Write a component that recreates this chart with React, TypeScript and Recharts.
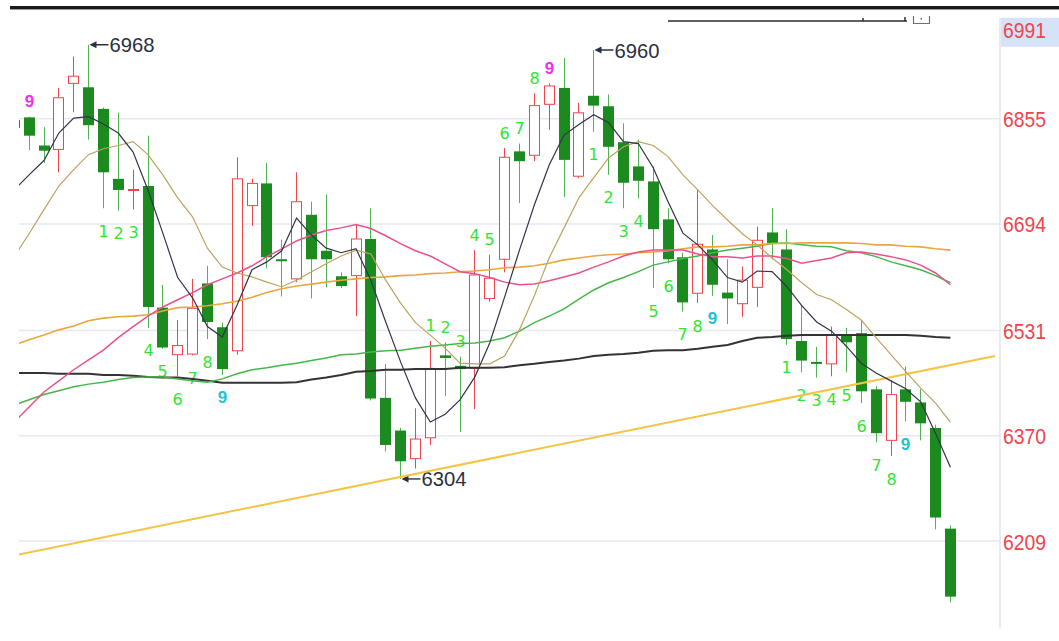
import React from 'react';
import { ComposedChart, Bar, Line, XAxis, YAxis, CartesianGrid, ReferenceLine } from 'recharts';

// ---- candle data (index 0 is the candle cut by the left edge) ----
const opens = [6853, 6857, 6814, 6808, 6909, 6903, 6870, 6763, 6745, 6752,
  6566, 6494, 6495, 6603, 6536, 6500, 6722, 6756, 6640, 6610,
  6708, 6653, 6614, 6615, 6671, 6428, 6378, 6335, 6367, 6493,
  6477, 6473, 6580, 6640, 6805, 6799, 6877, 6902, 6767, 6890,
  6874, 6819, 6782, 6759, 6701, 6643, 6588, 6655, 6589, 6572,
  6597, 6681, 6655, 6515, 6483, 6480, 6523, 6527, 6441, 6363,
  6441, 6421, 6382, 6228];
const highs = [6858, 6858, 6842, 6902, 6950, 6968, 6872, 6864, 6777, 6829,
  6601, 6547, 6610, 6630, 6543, 6796, 6763, 6787, 6670, 6773,
  6728, 6739, 6620, 6693, 6718, 6480, 6382, 6412, 6515, 6513,
  6491, 6654, 6647, 6810, 6817, 6894, 6909, 6948, 6879, 6960,
  6892, 6848, 6823, 6782, 6718, 6650, 6747, 6677, 6640, 6629,
  6690, 6718, 6686, 6570, 6506, 6537, 6535, 6546, 6446, 6455,
  6476, 6441, 6387, 6233];
const lows = [6835, 6807, 6787, 6773, 6865, 6823, 6718, 6714, 6716, 6535,
  6503, 6461, 6493, 6518, 6463, 6494, 6691, 6626, 6583, 6605,
  6580, 6597, 6596, 6553, 6424, 6346, 6304, 6320, 6356, 6431,
  6376, 6411, 6575, 6620, 6726, 6790, 6838, 6735, 6764, 6835,
  6769, 6718, 6733, 6596, 6634, 6560, 6573, 6584, 6541, 6552,
  6567, 6640, 6509, 6467, 6459, 6461, 6467, 6420, 6360, 6339,
  6392, 6363, 6227, 6115];
const closes = [6841, 6829, 6806, 6887, 6920, 6845, 6773, 6746, 6747, 6567,
  6505, 6508, 6565, 6544, 6472, 6763, 6756, 6643, 6638, 6728,
  6640, 6640, 6599, 6671, 6427, 6356, 6331, 6365, 6473, 6489,
  6472, 6616, 6611, 6796, 6790, 6875, 6905, 6792, 6864, 6875,
  6812, 6757, 6760, 6686, 6640, 6574, 6663, 6601, 6580, 6608,
  6669, 6665, 6518, 6485, 6481, 6524, 6513, 6438, 6374, 6433,
  6422, 6389, 6245, 6124];

// ---- moving average lines ----
const maBlack = [6746, 6769, 6791, 6833, 6856, 6858, 6847, 6833, 6804, 6746,
  6680, 6612, 6581, 6537, 6521, 6570, 6624, 6636, 6653, 6703,
  6677, 6657, 6650, 6656, 6608, 6544, 6483, 6428, 6391, 6403,
  6425, 6460, 6512, 6582, 6654, 6723, 6784, 6830, 6846, 6861,
  6849, 6820, 6817, 6780, 6728, 6680, 6662, 6639, 6612, 6605,
  6622, 6621, 6598, 6569, 6544, 6530, 6507, 6481, 6466, 6454,
  6442, 6422, 6374, 6322];
const maTan = [6644, 6679, 6716, 6752, 6777, 6800, 6809, 6814, 6820, 6800,
  6769, 6734, 6705, 6657, 6628, 6619, 6613, 6605, 6598, 6608,
  6621, 6633, 6645, 6654, 6648, 6608, 6573, 6543, 6524, 6504,
  6481, 6480, 6480, 6492, 6532, 6584, 6642, 6688, 6734, 6765,
  6795, 6812, 6820, 6814, 6797, 6769, 6746, 6722, 6700, 6679,
  6662, 6642, 6624, 6604, 6586, 6578, 6563, 6547, 6520, 6494,
  6468, 6443, 6420, 6391];
const maPink = [6391, 6414, 6437, 6454, 6471, 6486, 6501, 6520, 6537, 6553,
  6567, 6578, 6589, 6601, 6610, 6619, 6630, 6644, 6656, 6668,
  6677, 6684, 6688, 6693, 6687, 6676, 6664, 6653, 6645, 6633,
  6621, 6618, 6612, 6605, 6601, 6602, 6607, 6613, 6619, 6628,
  6636, 6645, 6651, 6654, 6654, 6654, 6648, 6644, 6644, 6642,
  6645, 6645, 6641, 6634, 6638, 6642, 6650, 6651, 6648, 6644,
  6639, 6631, 6619, 6601];
const maOrange = [6509, 6517, 6524, 6532, 6538, 6546, 6550, 6552, 6553, 6555,
  6561, 6566, 6567, 6569, 6572, 6576, 6582, 6589, 6595, 6599,
  6602, 6605, 6608, 6610, 6612, 6613, 6615, 6616, 6618, 6619,
  6621, 6622, 6624, 6627, 6628, 6630, 6634, 6639, 6642, 6645,
  6647, 6648, 6650, 6651, 6653, 6656, 6659, 6659, 6660, 6662,
  6662, 6664, 6664, 6665, 6665, 6665, 6665, 6664, 6662, 6662,
  6660, 6659, 6656, 6654];
const maGreen = [6417, 6425, 6433, 6439, 6445, 6449, 6452, 6456, 6459, 6460,
  6460, 6457, 6454, 6452, 6457, 6465, 6471, 6474, 6478, 6481,
  6485, 6489, 6494, 6495, 6498, 6500, 6501, 6504, 6507, 6509,
  6511, 6512, 6515, 6520, 6530, 6543, 6553, 6564, 6579, 6593,
  6604, 6612, 6621, 6631, 6636, 6641, 6645, 6650, 6654, 6657,
  6660, 6664, 6665, 6662, 6660, 6659, 6653, 6650, 6644, 6636,
  6630, 6624, 6615, 6604];
const maDark = [6466, 6466, 6466, 6465, 6465, 6465, 6463, 6463, 6462, 6460,
  6459, 6459, 6457, 6454, 6451, 6451, 6451, 6451, 6451, 6452,
  6456, 6459, 6463, 6468, 6469, 6471, 6471, 6472, 6472, 6472,
  6474, 6474, 6474, 6475, 6478, 6480, 6483, 6485, 6488, 6492,
  6494, 6495, 6497, 6500, 6501, 6501, 6503, 6506, 6509, 6515,
  6520, 6521, 6523, 6524, 6524, 6524, 6524, 6524, 6524, 6524,
  6524, 6523, 6521, 6520];

const yTicks = [6209, 6370, 6531, 6694, 6855, 6991];
const gridValues = [6209, 6370, 6531, 6694, 6855];
const EMPTY_SLOTS = 3;

// trend line endpoints (category index, value)
const trendPoints = [{ i: 0, v: 6187 }, { i: 66, v: 6492 }];

// sequence counters: index, number, above/below, tone
const tdMarks = [
  { i: 1, n: 9, pos: 'above', tone: 'magenta' },
  { i: 6, n: 1, pos: 'below', tone: 'green' }, { i: 7, n: 2, pos: 'below', tone: 'green' },
  { i: 8, n: 3, pos: 'below', tone: 'green' }, { i: 9, n: 4, pos: 'below', tone: 'green' },
  { i: 10, n: 5, pos: 'below', tone: 'green' }, { i: 11, n: 6, pos: 'below', tone: 'green' },
  { i: 12, n: 7, pos: 'below', tone: 'green' }, { i: 13, n: 8, pos: 'below', tone: 'green' },
  { i: 14, n: 9, pos: 'below', tone: 'cyan' },
  { i: 28, n: 1, pos: 'above', tone: 'green' }, { i: 29, n: 2, pos: 'above', tone: 'green' },
  { i: 30, n: 3, pos: 'above', tone: 'green' }, { i: 31, n: 4, pos: 'above', tone: 'green' },
  { i: 32, n: 5, pos: 'above', tone: 'green' }, { i: 33, n: 6, pos: 'above', tone: 'green' },
  { i: 34, n: 7, pos: 'above', tone: 'green' }, { i: 35, n: 8, pos: 'above', tone: 'green' },
  { i: 36, n: 9, pos: 'above', tone: 'magenta' },
  { i: 39, n: 1, pos: 'below', tone: 'green' }, { i: 40, n: 2, pos: 'below', tone: 'green' },
  { i: 41, n: 3, pos: 'below', tone: 'green' }, { i: 42, n: 4, pos: 'below', tone: 'green' },
  { i: 43, n: 5, pos: 'below', tone: 'green' }, { i: 44, n: 6, pos: 'below', tone: 'green' },
  { i: 45, n: 7, pos: 'below', tone: 'green' }, { i: 46, n: 8, pos: 'below', tone: 'green' },
  { i: 47, n: 9, pos: 'below', tone: 'cyan' },
  { i: 52, n: 1, pos: 'below', tone: 'green' }, { i: 53, n: 2, pos: 'below', tone: 'green' },
  { i: 54, n: 3, pos: 'below', tone: 'green' }, { i: 55, n: 4, pos: 'below', tone: 'green' },
  { i: 56, n: 5, pos: 'below', tone: 'green' }, { i: 57, n: 6, pos: 'below', tone: 'green' },
  { i: 58, n: 7, pos: 'below', tone: 'green' }, { i: 59, n: 8, pos: 'below', tone: 'green' },
  { i: 60, n: 9, pos: 'below', tone: 'cyan' },
];

const extremes = [
  { i: 5, label: '6968', at: 'high' },
  { i: 39, label: '6960', at: 'high' },
  { i: 26, label: '6304', at: 'low' },
];

const RED = '#f0444c';
const GREEN_BODY = '#1b8b1f';
const GREEN_WICK = '#52b456';
const TONES: Record<string, string> = { green: '#2fe62f', magenta: '#f22cf0', cyan: '#1fc3d6' };
const FONT = "'Liberation Sans', Arial, sans-serif";

const tdByIndex: Record<number, (typeof tdMarks)[number]> = {};
tdMarks.forEach((m) => { tdByIndex[m.i] = m; });
const extByIndex: Record<number, (typeof extremes)[number]> = {};
extremes.forEach((e) => { extByIndex[e.i] = e; });

const data = Array.from({ length: opens.length + EMPTY_SLOTS }, (_, i) => {
  const has = i < opens.length;
  return {
    i,
    open: has ? opens[i] : null,
    high: has ? highs[i] : null,
    low: has ? lows[i] : null,
    close: has ? closes[i] : null,
    range: has ? [lows[i], highs[i]] : null,
    maBlack: has ? maBlack[i] : null,
    maTan: has ? maTan[i] : null,
    maPink: has ? maPink[i] : null,
    maOrange: has ? maOrange[i] : null,
    maGreen: has ? maGreen[i] : null,
    maDark: has ? maDark[i] : null,
  };
});

function Candle(props: any) {
  const { x, y, width, height, payload } = props;
  if (!payload || payload.high == null || x == null || y == null) return <g />;
  const top = Math.min(y, y + height);
  const span = Math.abs(height);
  const rng = payload.high - payload.low;
  const py = (v: number) => (rng > 0 ? top + ((payload.high - v) / rng) * span : top);
  const cx = Math.floor(x + width / 2);
  const wx = cx + 0.5;
  const up = payload.close >= payload.open;
  const yH = py(payload.high);
  const yL = py(payload.low);
  const yO = py(payload.open);
  const yC = py(payload.close);
  const bTop = Math.min(yO, yC);
  const bBot = Math.max(yO, yC);
  const els: any[] = [];
  if (up) {
    const bh = bBot - bTop;
    els.push(<line key="w1" x1={wx} x2={wx} y1={yH} y2={bTop} stroke={RED} strokeWidth={1} />);
    els.push(<line key="w2" x1={wx} x2={wx} y1={bBot} y2={yL} stroke={RED} strokeWidth={1} />);
    if (bh < 2) {
      els.push(<line key="b" x1={cx - 5} x2={cx + 6} y1={(bTop + bBot) / 2} y2={(bTop + bBot) / 2} stroke={RED} strokeWidth={2} />);
    } else {
      els.push(<rect key="b" x={cx - 4.5} y={bTop} width={10} height={bh} fill="#ffffff" stroke={RED} strokeWidth={1} />);
    }
  } else {
    els.push(<line key="w" x1={wx} x2={wx} y1={yH} y2={yL} stroke={GREEN_WICK} strokeWidth={1} />);
    const bh = Math.max(bBot - bTop, 2);
    els.push(<rect key="b" x={cx - 5} y={bTop} width={11} height={bh} fill={GREEN_BODY} />);
  }
  const td = tdByIndex[payload.i];
  if (td) {
    const ty = td.pos === 'above' ? yH - 15 : yL + 23;
    const bold = td.tone !== 'green';
    els.push(
      <text key="td" x={wx} y={ty} textAnchor="middle" dominantBaseline="central"
        fontSize={bold ? 17 : 16} fontWeight={bold ? 'bold' : 'normal'}
        fontFamily={bold ? FONT : "'DejaVu Sans', sans-serif"} fill={TONES[td.tone]}>
        {td.n}
      </text>
    );
  }
  const ex = extByIndex[payload.i];
  if (ex) {
    const ty = ex.at === 'high' ? yH : yL;
    const c = '#2b3040';
    els.push(<line key="al" x1={wx + 5} x2={wx + 20} y1={ty} y2={ty} stroke={c} strokeWidth={1.4} />);
    els.push(<path key="ah" d={`M${wx + 1},${ty} L${wx + 8},${ty - 3.5} L${wx + 8},${ty + 3.5} Z`} fill={c} />);
    els.push(
      <text key="at" x={wx + 21} y={ty} dominantBaseline="central" fontSize={21} fontFamily={FONT} fill={c}
        textLength={45} lengthAdjust="spacingAndGlyphs">
        {ex.label}
      </text>
    );
  }
  return <g>{els}</g>;
}

function AxisTick(props: any) {
  const { x, y, payload } = props;
  const isTop = payload.value === yTicks[yTicks.length - 1];
  return (
    <g>
      {isTop && <rect x={x - 2} y={y - 12} width={62} height={29} fill="#d6e2f7" />}
      <text x={x} y={y + 1} dominantBaseline="central" fontSize={22} fontFamily={FONT} fill={RED}
        textLength={43} lengthAdjust="spacingAndGlyphs">
        {payload.value}
      </text>
    </g>
  );
}

export default function App() {
  return (
    <div style={{ position: 'absolute', left: 0, top: 0, width: 1059, height: 641, background: '#ffffff' }}>
      <ComposedChart
        width={1059}
        height={641}
        data={data}
        margin={{ top: 18, right: 0, bottom: 13, left: 19 }}
      >
        <CartesianGrid vertical={false} horizontalValues={gridValues} stroke="#e7e7f2" strokeWidth={1.5} />
        <XAxis dataKey="i" type="category" hide allowDataOverflow padding={{ left: -12.2, right: -2.4 }} />
        <YAxis
          orientation="right"
          width={59}
          type="number"
          domain={[6076, 7009]}
          allowDataOverflow
          ticks={yTicks}
          interval={0}
          tickLine={false}
          tickSize={0}
          tickMargin={3}
          axisLine={{ stroke: '#e3e3ef', strokeWidth: 1.5 }}
          tick={<AxisTick />}
        />
        <ReferenceLine
          segment={[{ x: trendPoints[0].i, y: trendPoints[0].v }, { x: trendPoints[1].i, y: trendPoints[1].v }]}
          stroke="#f6c445"
          strokeWidth={2}
          ifOverflow="hidden"
        />
        <Bar dataKey="range" shape={Candle} isAnimationActive={false} />
        <Line dataKey="maDark" stroke="#333333" strokeWidth={2} dot={false} isAnimationActive={false} />
        <Line dataKey="maGreen" stroke="#46b64b" strokeWidth={1.5} dot={false} isAnimationActive={false} />
        <Line dataKey="maOrange" stroke="#e9a73e" strokeWidth={1.6} dot={false} isAnimationActive={false} />
        <Line dataKey="maPink" stroke="#e8528c" strokeWidth={1.5} dot={false} isAnimationActive={false} />
        <Line dataKey="maTan" stroke="#bba35f" strokeWidth={1.2} dot={false} isAnimationActive={false} />
        <Line dataKey="maBlack" stroke="#32344a" strokeWidth={1.2} dot={false} isAnimationActive={false} />
      </ComposedChart>
      <svg width={1059} height={641} style={{ position: 'absolute', left: 0, top: 0, pointerEvents: 'none' }}>
        <rect x={0} y={11} width={19} height={630} fill="#ffffff" />
        <line x1={10} x2={1059} y1={7.5} y2={7.5} stroke="#1a1a1a" strokeWidth={3} />
        <line x1={10} x2={1059} y1={9.5} y2={9.5} stroke="#9a9a9a" strokeWidth={1} />
        <line x1={668} x2={907} y1={21} y2={21} stroke="#2a2a2a" strokeWidth={1.5} />
        <line x1={863} x2={863} y1={18} y2={21} stroke="#2a2a2a" strokeWidth={1.5} />
        <line x1={905} x2={905} y1={17} y2={21} stroke="#2a2a2a" strokeWidth={1.5} />
        <path d="M913.5,16 L913.5,23.5 L929.5,23.5 L929.5,16" fill="none" stroke="#6a7088" strokeWidth={1.2} />
        <rect x={920.5} y={18} width={1.5} height={1.5} fill="#6a7088" />
      </svg>
    </div>
  );
}
